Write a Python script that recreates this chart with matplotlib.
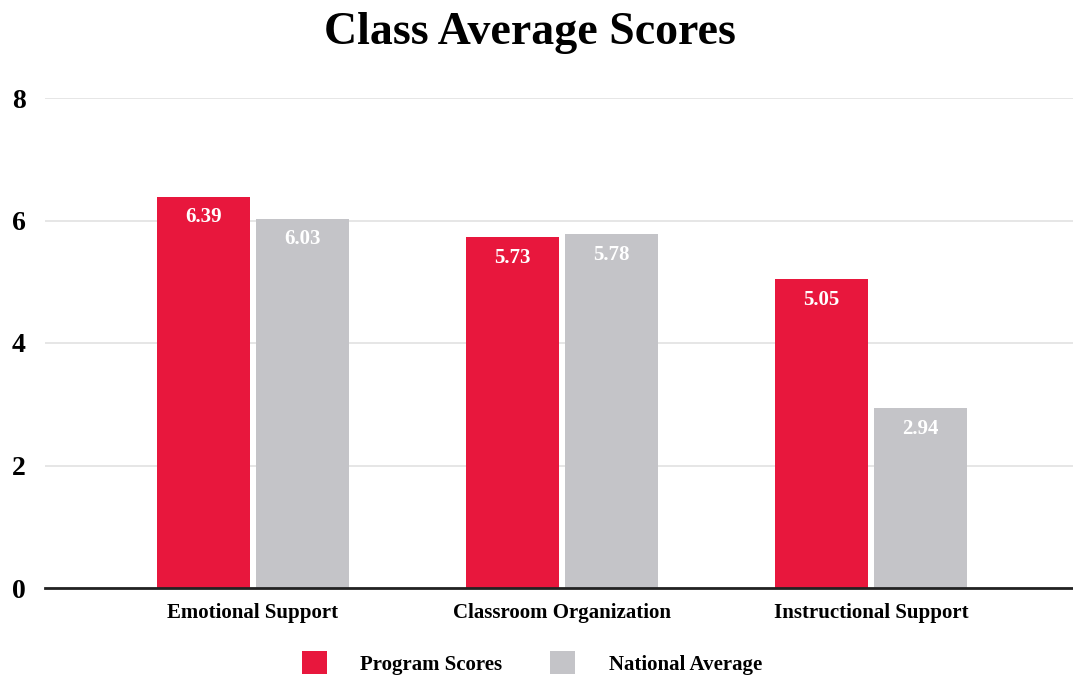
import matplotlib.pyplot as plt
import numpy as np

categories = ['Emotional Support', 'Classroom Organization', 'Instructional Support']
program_scores = [6.39, 5.73, 5.05]
national_avg = [6.03, 5.78, 2.94]
yticks = [0, 2, 4, 6, 8]

red = '#E8173D'
gray = '#C4C4C8'
serif = ['Liberation Serif', 'DejaVu Serif']

fig = plt.figure(figsize=(10.73, 6.77), dpi=100)
ax = fig.add_axes([45 / 1073, 89 / 677, 1028 / 1073, 490 / 677 * 1.0])

x = np.arange(len(categories))
w = 0.30
b1 = ax.bar(x - w / 2 - 0.01, program_scores, w, color=red, label='Program Scores')
b2 = ax.bar(x + w / 2 + 0.01, national_avg, w, color=gray, label='National Average')

for bars in (b1, b2):
    for bar in bars:
        h = bar.get_height()
        ax.annotate(f'{h:.2f}', (bar.get_x() + bar.get_width() / 2, h),
                    xytext=(0, -15), textcoords='offset points', ha='center', va='center',
                    color='white', fontsize=15, fontweight='bold', family=serif)

ax.set_xlim(-0.673, 2.654)
ax.set_ylim(0, 8)
ax.set_yticks(yticks)
ax.set_yticklabels([str(t) for t in yticks], fontsize=20, fontweight='bold', family=serif)
ax.set_xticks(x)
ax.set_xticklabels(categories, fontsize=15, fontweight='bold', family=serif)
ax.tick_params(axis='both', length=0)
ax.tick_params(axis='y', pad=14)
ax.tick_params(axis='x', pad=11)

ax.grid(axis='y', color='#E2E2E2', linewidth=1.2)
ax.set_axisbelow(True)
for s in ['top', 'right', 'left']:
    ax.spines[s].set_visible(False)
ax.spines['bottom'].set_color('#222222')
ax.spines['bottom'].set_linewidth(2)
ax.spines['bottom'].set_clip_on(False)

fig.suptitle('Class Average Scores', x=530 / 1073, y=1 - 33 / 677, va='center',
             fontsize=33, fontweight='bold', family=serif)

ax.legend(loc='center', bbox_to_anchor=(532 / 1073, 14 / 677), bbox_transform=fig.transFigure,
          ncol=2, frameon=False, handlelength=1.2, handleheight=1.3, columnspacing=2.3,
          handletextpad=1.6, prop={'family': serif, 'weight': 'bold', 'size': 15})

fig.savefig('out.png', dpi=100)
